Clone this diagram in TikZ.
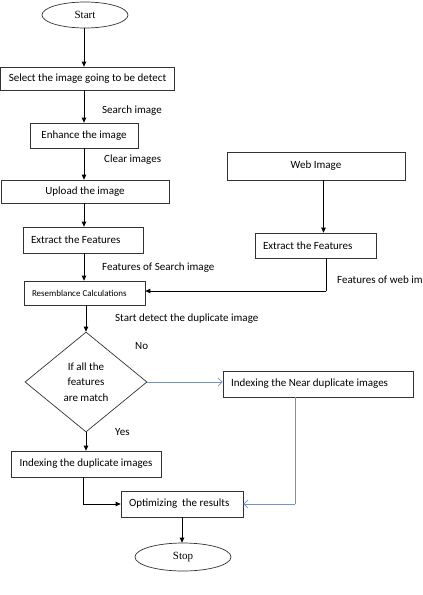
\documentclass[tikz,border=0pt]{standalone}
\usepackage{fontspec}
\setmainfont{Carlito}
\newfontfamily\serifx{Liberation Serif}
\usetikzlibrary{shapes.geometric,arrows.meta}
\definecolor{bl}{RGB}{110,150,205}
\definecolor{gr}{RGB}{140,140,140}
\tikzset{
  box/.style={draw=black!80,line width=0.7pt,rectangle,inner sep=0pt,font=\fontsize{11}{13}\selectfont},
  lbox/.style={box,inner xsep=8pt,align=flush left},
  term/.style={draw=black!80,line width=0.7pt,ellipse,inner sep=0pt,font=\serifx\fontsize{11}{12}\selectfont},
  lbl/.style={anchor=west,inner sep=0pt,font=\fontsize{11}{13}\selectfont},
  arr/.style={draw=black,line width=0.8pt,-{Triangle[length=5pt,width=4.5pt]}},
  barr/.style={draw=bl,line width=0.8pt,-{Straight Barb[length=4pt,width=8pt]}},
}
\begin{document}
\begin{tikzpicture}[x=1pt,y=-1pt]
\useasboundingbox (0,0) rectangle (423,595);
\node[term,minimum width=86pt,minimum height=26pt] (start) at (85,15) {Start};
\node[box,minimum width=174pt,minimum height=23pt] (sel) at (87.5,78.5) {Select the image going to be detect};
\node[box,minimum width=108pt,minimum height=25pt] (enh) at (84,135.5) {Enhance the image};
\node[box,minimum width=168pt,minimum height=23pt] (upl) at (85,191.5) {Upload the image};
\node[lbox,text width=104pt,minimum height=26pt] (ext) at (83,240) {Extract the Features};
\node[lbox,text width=105pt,minimum height=24pt,font=\fontsize{9}{11}\selectfont] (res) at (84.5,293) {Resemblance Calculations};
\node[draw=black!80,line width=0.7pt,diamond,minimum width=122pt,minimum height=100pt,inner sep=0pt,align=center,font=\fontsize{11}{15.5}\selectfont] (dia) at (86,382) {If all the\\features\\are match};
\node[lbox,text width=174pt,minimum height=26pt] (near) at (318,384) {Indexing the Near duplicate images};
\node[box,minimum width=150pt,minimum height=26pt] (idx) at (86,464) {Indexing the duplicate images};
\node[lbox,text width=106pt,minimum height=26pt] (opt) at (182,504) {Optimizing\ \ the results};
\node[term,minimum width=96pt,minimum height=28pt] (stop) at (183,557) {Stop};
\node[box,minimum width=178pt,minimum height=28pt] (web) at (316,166) {Web Image};
\node[lbox,text width=105pt,minimum height=25pt] (ext2) at (315.5,245.5) {Extract the Features};

\node[lbl] (l1) at (102,111) {Search image};
\node[lbl] (l2) at (104,160) {Clear images};
\node[lbl] (l3) at (102,268) {Features of Search image};
\node[lbl] (l4) at (115,319) {Start detect the duplicate image};
\node[lbl] (l5) at (135,346) {No};
\node[lbl] (l6) at (115,432) {Yes};
\node[lbl] (l7) at (337,280) {Features of web im};

\coordinate (s0) at ([xshift=-1pt]start.south);
\draw[arr] (s0) -- (s0 |- sel.north);
\coordinate (s1) at ([xshift=-3.5pt]sel.south);
\draw[arr] (s1) -- (s1 |- enh.north);
\draw[arr] (enh.south) -- (enh.south |- upl.north);
\coordinate (s2) at ([xshift=-1pt]upl.south);
\draw[arr] (s2) -- (s2 |- ext.north);
\coordinate (s3) at ([xshift=1pt]ext.south);
\draw[arr] (s3) -- (s3 |- res.north);
\coordinate (s4) at ([xshift=1.5pt]res.south);
\draw[arr] (s4) -- (s4 |- dia.north);
\coordinate (s5) at ([xshift=7.5pt]web.south);
\draw[arr] (s5) -- (s5 |- ext2.north);
\coordinate (s6) at ([xshift=10.5pt]ext2.south);
\coordinate (c1) at (s6 |- 0,291);
\draw[line width=0.8pt] (s6) -- (c1);
\draw[arr] (c1) -- (c1 -| res.east);
\draw[arr] (dia.south) -- (dia.south |- idx.north);
\coordinate (s7) at ([xshift=-3pt]idx.south);
\coordinate (c2) at (s7 |- opt.west);
\draw[line width=0.8pt] (s7) -- (c2);
\draw[arr] (c2) -- (opt.west);
\draw[barr] (dia.east) -- (dia.east -| near.west);
\coordinate (s8) at ([xshift=-23pt]near.south);
\coordinate (c3) at (s8 |- opt.east);
\draw[draw=gr,line width=1pt] (s8) -- (c3);
\draw[barr] (c3) -- (opt.east);
\draw[arr] (opt.south) -- (opt.south |- stop.north);
\end{tikzpicture}
\end{document}
